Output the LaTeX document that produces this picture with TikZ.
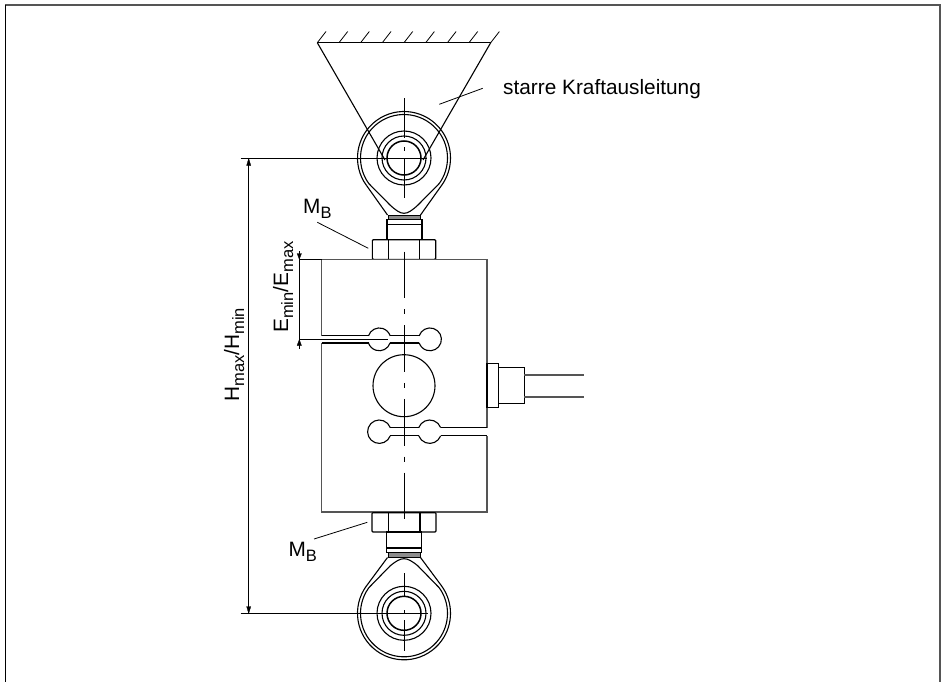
\documentclass[tikz,border=0pt]{standalone}
\usepackage{xcolor}
\usepackage{fontspec}
\setmainfont{Liberation Sans}
\definecolor{Black}{RGB}{0,0,0}
\definecolor{Frame}{RGB}{85,85,85}
\definecolor{Band}{RGB}{140,140,140}
\newcommand{\lowered}[1]		{\raisebox{-5pt}{\fontsize{16.5}{16.5}\selectfont #1}}
\newcommand{\moment}			{M\lowered{B}}
\newcommand{\heightlabel}		{H\lowered{max}/H\lowered{min}}
\newcommand{\offsetlabel}		{E\lowered{min}/E\lowered{max}}
\tikzset{
	Part/.style={draw=Black, line width=1.1pt},
	Body/.style={draw=Frame, line width=1.3pt},
	Fine/.style={draw=Black, line width=0.8pt},
	Tip/.style={fill=Black, draw=Black, line width=0.3pt},
	CenterLine/.style={draw=Black, line width=1pt, dash pattern=on 46.6pt off 11pt on 5pt off 11pt},
	Label/.style={color=Black, font=\fontsize{20.8}{24}\selectfont, inner sep=0pt}
}

\begin{document}
\begin{tikzpicture}[x=1pt, y=-1pt]

		\useasboundingbox (0,0) rectangle (941,682);

		% Frame
		\draw[-, draw=Frame, line width=2pt] (5,5.5) -- (941,5.5);
		\draw[-, draw=Black, line width=1.6pt] (5.5,5) -- (5.5,682);
		\draw[-, draw=Frame, line width=2pt] (940,5) -- (940,682);

		% Ground
		\draw[Part] (317.3,42.7) -- (490.7,42.7);
		\draw[Fine] (317.3,42.7) -- (326,31.5);
		\draw[Fine] (339,42.7) -- (347.7,31.5);
		\draw[Fine] (360.6,42.7) -- (369.3,31.5);
		\draw[Fine] (382.3,42.7) -- (391,31.5);
		\draw[Fine] (404,42.7) -- (412.7,31.5);
		\draw[Fine] (425.7,42.7) -- (434.4,31.5);
		\draw[Fine] (447.4,42.7) -- (456.1,31.5);
		\draw[Fine] (469,42.7) -- (477.7,31.5);
		\draw[Fine] (490.7,42.7) -- (499.4,31.5);

		% Rigid force transfer
		\draw[Part] (317.3,42.7) -- (385,160);
		\draw[Part] (490.7,42.7) -- (423,160);
		\draw[Fine] (439.3,104.3) -- (482.7,88.3);

		% Upper eye
		\draw[Part] (404,158)+(144:46.5) arc (144:396:46.5) -- (420.5,215);
		\draw[Part] (366.4,185.3) -- (387.5,215);
		\draw[Part] (404,158)+(144:43.5) arc (144:396:43.5) -- (418,205) .. controls (412,210.5) and (408,213.3) .. (404,213.3) .. controls (400,213.3) and (396,210.5) .. (390,205) -- cycle;
		\draw[Part] (404,158) circle (27);
		\draw[Part] (404,158) circle (22);
		\draw[draw=Black, line width=1.5pt] (404,158) circle (17);

		% Upper neck
		\filldraw[fill=Band, draw=Black, line width=0.8pt] (388.3,215) rectangle (420.7,219.3);
		\draw[Part] (387,219.3) rectangle (422,239.7);
		\draw[draw=Black, line width=1.6pt] (387,224.3) -- (422,224.3);

		% Upper nut
		\draw[Part, rounded corners=1pt] (372.3,239.7) rectangle (435.7,259.3);
		\draw[Part] (388.3,239.7) -- (388.3,259.3);
		\draw[Part] (419.3,239.7) -- (419.3,259.3);

		% Body
		\draw[Body] (321.7,335.7) -- (321.7,259.3) -- (487,259.3) -- (487,427.7);
		\draw[Body] (321.7,343) -- (321.7,512) -- (487,512) -- (487,435.7);
		\draw[Part] (404,385.7) circle (31);

		% Upper slot
		\draw[Part] (321.7,335.7) -- (368.5,335.7);
		\draw[Part] (321.7,343) -- (368.5,343);
		\draw[Part] (390.1,335.7) -- (419.2,335.7);
		\draw[Part] (390.1,343) -- (419.2,343);
		\draw[Part] (379.3,339.35)+(198:11.4) arc (198:342:11.4);
		\draw[Part] (379.3,339.35)+(18:11.4) arc (18:162:11.4);
		\draw[Part] (430,339.35)+(-162:11.4) arc (-162:162:11.4);

		% Lower slot
		\draw[Part] (390.3,427.7) -- (418.7,427.7);
		\draw[Part] (390.3,435.7) -- (418.7,435.7);
		\draw[Part] (440.7,427.7) -- (487,427.7);
		\draw[Part] (440.7,435.7) -- (487,435.7);
		\draw[Part] (379.3,431.7)+(21:11.7) arc (21:339:11.7);
		\draw[Part] (429.7,431.7)+(21:11.7) arc (21:159:11.7);
		\draw[Part] (429.7,431.7)+(201:11.7) arc (201:339:11.7);

		% Plug and cable
		\draw[Part] (487,363.3) rectangle (498.3,407.3);
		\draw[Part] (498.3,367.3) rectangle (524.3,403.3);
		\draw[Body] (524.3,375) -- (583.7,375);
		\draw[Body] (524.3,397) -- (583.7,397);

		% Lower nut
		\draw[Part, rounded corners=1pt] (372,512.7) rectangle (436,532);
		\draw[Part] (388.3,512.7) -- (388.3,532);
		\draw[Part] (420,512.7) -- (420,532);

		% Lower neck
		\draw[Part] (386.7,532) rectangle (421.7,552.3);
		\draw[draw=Black, line width=1.6pt] (386.7,547.7) -- (421.7,547.7);
		\filldraw[fill=Band, draw=Black, line width=0.8pt] (388.3,552.3) rectangle (420.7,557.5);

		% Lower eye
		\draw[Part] (404,613.3)+(216:46.5) arc (216:-36:46.5) -- (420.5,557.5);
		\draw[Part] (366.4,586) -- (387.5,557.5);
		\draw[Part] (404,613.3)+(216:43.5) arc (216:-36:43.5) -- (418,566) .. controls (412,561) and (408,558.7) .. (404,558.7) .. controls (400,558.7) and (396,561) .. (390,566) -- cycle;
		\draw[Part] (404,613.3) circle (27);
		\draw[Part] (404,613.3) circle (22);
		\draw[draw=Black, line width=1.5pt] (404,613.3) circle (17);

		% Center lines
		\draw[-, draw=Black, line width=1pt] (404,98.3) -- (404,138);
		\draw[-, draw=Black, line width=1pt] (404,147) -- (404,151);
		\draw[-, draw=Black, line width=1pt] (404,158) -- (404,198);
		\draw[CenterLine] (404,251.7) -- (404,519);
		\draw[-, draw=Black, line width=1pt] (404,573.3) -- (404,597);
		\draw[-, draw=Black, line width=1pt] (404,610) -- (404,614);
		\draw[-, draw=Black, line width=1pt] (404,620) -- (404,650.7);

		% Height dimension
		\draw[Part] (240.7,158.5) -- (427,158.5);
		\draw[Part] (240.7,613.5) -- (428,613.5);
		\draw[Fine] (248.7,158.5) -- (248.7,613.5);
		\filldraw[Tip] (248.7,158.5) -- (250.8,165.5) -- (246.6,165.5) -- cycle;
		\filldraw[Tip] (248.7,613.5) -- (250.8,606.5) -- (246.6,606.5) -- cycle;

		% Offset dimension
		\draw[Part] (299.3,259.3) -- (321.7,259.3);
		\draw[Fine] (299.3,339.5) -- (388,339.5);
		\draw[Fine] (299.3,251) -- (299.3,349);
		\filldraw[Tip] (299.3,259.3) -- (301.5,253.5) -- (297.1,253.5) -- cycle;
		\filldraw[Tip] (299.3,339.5) -- (301.5,345.5) -- (297.1,345.5) -- cycle;

		% Leaders
		\draw[Fine] (317.3,222.3) -- (368.3,248.3);
		\draw[Fine] (314,539) -- (367.3,522.3);

		% Names
		\node[Label, anchor=base west] (transfer) at (503,95) {starre Kraftausleitung};
		\node[Label, anchor=base west] (momentTop) at (303,213) {\moment};
		\node[Label, anchor=base west] (momentBottom) at (288.3,556.7) {\moment};
		\node[Label, anchor=base west, rotate=90] (height) at (239,401.7) {\heightlabel};
		\node[Label, anchor=base west, rotate=90] (offset) at (288,333) {\offsetlabel};

	\end{tikzpicture}
\end{document}
